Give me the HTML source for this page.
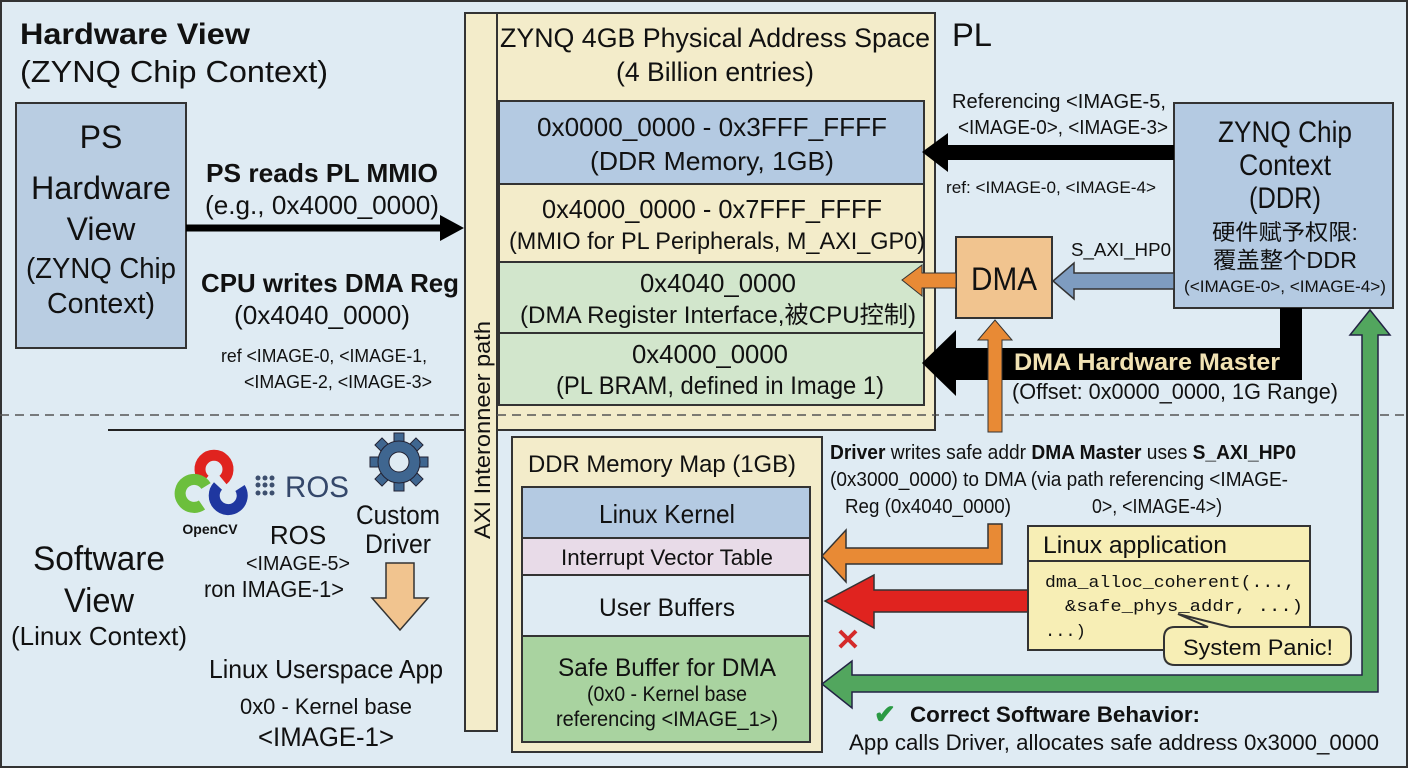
<!DOCTYPE html>
<html><head><meta charset="utf-8"><style>
html,body{margin:0;padding:0;background:#dde9f2}
svg{display:block}
text{font-family:"Liberation Sans","Noto Sans CJK SC",sans-serif;fill:#111}
.m{font-family:"Liberation Mono",monospace}
</style></head><body>
<svg width="1408" height="768" viewBox="0 0 1408 768" xmlns="http://www.w3.org/2000/svg">
<rect x="1" y="1" width="1406" height="766" fill="#dfebf3" stroke="#333" stroke-width="2"/>
<line x1="0" y1="415" x2="1408" y2="415" stroke="#555" stroke-width="1.5" stroke-dasharray="9,6"/>
<line x1="108" y1="430" x2="465" y2="430" stroke="#222" stroke-width="2"/>

<text x="20" y="44" font-size="30" font-weight="bold" textLength="230" lengthAdjust="spacingAndGlyphs">Hardware View</text>
<text x="20" y="82" font-size="31" textLength="308" lengthAdjust="spacingAndGlyphs">(ZYNQ Chip Context)</text>

<rect x="16" y="103" width="170" height="245" fill="#b9cde2" stroke="#333" stroke-width="2"/>
<g font-size="32" text-anchor="middle">
<text x="101" y="148">PS</text>
<text x="101" y="199" textLength="140" lengthAdjust="spacingAndGlyphs">Hardware</text>
<text x="101" y="240">View</text>
<text x="101" y="278" font-size="29" textLength="150" lengthAdjust="spacingAndGlyphs">(ZYNQ Chip</text>
<text x="101" y="313" font-size="29" textLength="108" lengthAdjust="spacingAndGlyphs">Context)</text>
</g>
<line x1="186" y1="228" x2="445" y2="228" stroke="#000" stroke-width="7"/>
<polygon points="440,215 464,228 440,241" fill="#000"/>
<g text-anchor="middle">
<text x="322" y="182" font-size="26" font-weight="bold" textLength="232" lengthAdjust="spacingAndGlyphs">PS reads PL MMIO</text>
<text x="322" y="214" font-size="26" textLength="234" lengthAdjust="spacingAndGlyphs">(e.g., 0x4000_0000)</text>
<text x="330" y="292" font-size="26" font-weight="bold" textLength="258" lengthAdjust="spacingAndGlyphs">CPU writes DMA Reg</text>
<text x="322" y="324" font-size="26" textLength="176" lengthAdjust="spacingAndGlyphs">(0x4040_0000)</text>
</g>
<text x="221" y="362" font-size="18" textLength="206" lengthAdjust="spacingAndGlyphs">ref &lt;IMAGE-0, &lt;IMAGE-1,</text>
<text x="244" y="388" font-size="18" textLength="188" lengthAdjust="spacingAndGlyphs">&lt;IMAGE-2, &lt;IMAGE-3&gt;</text>

<rect x="465" y="13" width="470" height="417" fill="#f3ecca" stroke="#333" stroke-width="2"/>
<rect x="465" y="13" width="32" height="718" fill="#f3ecca" stroke="#333" stroke-width="2"/>
<line x1="497" y1="415" x2="935" y2="415" stroke="#555" stroke-width="1.5" stroke-dasharray="9,6"/>
<text x="715" y="47" font-size="27" text-anchor="middle" textLength="430" lengthAdjust="spacingAndGlyphs">ZYNQ 4GB Physical Address Space</text>
<text x="715" y="81" font-size="27" text-anchor="middle" textLength="198" lengthAdjust="spacingAndGlyphs">(4 Billion entries)</text>
<text x="952" y="46" font-size="32" textLength="40" lengthAdjust="spacingAndGlyphs">PL</text>
<text transform="translate(490,430) rotate(-90)" font-size="22" text-anchor="middle" textLength="218" lengthAdjust="spacingAndGlyphs">AXI Interonneer path</text>

<rect x="499" y="101" width="425" height="83" fill="#b4cae2" stroke="#333" stroke-width="2"/>
<rect x="499" y="184" width="425" height="78" fill="#f3ecca" stroke="#333" stroke-width="2"/>
<rect x="499" y="262" width="425" height="71" fill="#d2e6cc" stroke="#333" stroke-width="2"/>
<rect x="499" y="333" width="425" height="72" fill="#d2e6cc" stroke="#333" stroke-width="2"/>
<g text-anchor="middle" font-size="26">
<text x="712" y="136" textLength="350" lengthAdjust="spacingAndGlyphs">0x0000_0000 - 0x3FFF_FFFF</text>
<text x="712" y="170" textLength="244" lengthAdjust="spacingAndGlyphs">(DDR Memory, 1GB)</text>
<text x="712" y="218" textLength="340" lengthAdjust="spacingAndGlyphs">0x4000_0000 - 0x7FFF_FFFF</text>
<text x="717" y="249" font-size="24" textLength="416" lengthAdjust="spacingAndGlyphs">(MMIO for PL Peripherals, M_AXI_GP0)</text>
<text x="718" y="292" textLength="156" lengthAdjust="spacingAndGlyphs">0x4040_0000</text>
<text x="718" y="323" font-size="24" textLength="396" lengthAdjust="spacingAndGlyphs">(DMA Register Interface,被CPU控制)</text>
<text x="710" y="363" textLength="156" lengthAdjust="spacingAndGlyphs">0x4000_0000</text>
<text x="720" y="394" font-size="25" textLength="328" lengthAdjust="spacingAndGlyphs">(PL BRAM, defined in Image 1)</text>
</g>

<rect x="512" y="437" width="310" height="315" fill="#f3ecca" stroke="#333" stroke-width="2"/>
<text x="528" y="472" font-size="24" textLength="268" lengthAdjust="spacingAndGlyphs">DDR Memory Map (1GB)</text>
<rect x="522" y="487" width="288" height="51" fill="#b4cae2" stroke="#333" stroke-width="2"/>
<rect x="522" y="538" width="288" height="37" fill="#e8dbe8" stroke="#333" stroke-width="2"/>
<rect x="522" y="575" width="288" height="61" fill="#dfebf3" stroke="#333" stroke-width="2"/>
<rect x="522" y="636" width="288" height="106" fill="#a9d3a0" stroke="#333" stroke-width="2"/>
<g text-anchor="middle">
<text x="667" y="523" font-size="26" textLength="136" lengthAdjust="spacingAndGlyphs">Linux Kernel</text>
<text x="667" y="565" font-size="22" textLength="212" lengthAdjust="spacingAndGlyphs">Interrupt Vector Table</text>
<text x="667" y="616" font-size="25" textLength="136" lengthAdjust="spacingAndGlyphs">User Buffers</text>
<text x="667" y="676" font-size="25" textLength="218" lengthAdjust="spacingAndGlyphs">Safe Buffer for DMA</text>
<text x="667" y="701" font-size="21" textLength="160" lengthAdjust="spacingAndGlyphs">(0x0 - Kernel base</text>
<text x="667" y="726" font-size="21" textLength="222" lengthAdjust="spacingAndGlyphs">referencing &lt;IMAGE_1&gt;)</text>
</g>

<rect x="1174" y="103" width="219" height="205" fill="#b4cae2" stroke="#333" stroke-width="2"/>
<g text-anchor="middle">
<text x="1285" y="142" font-size="30" textLength="134" lengthAdjust="spacingAndGlyphs">ZYNQ Chip</text>
<text x="1285" y="175" font-size="30" textLength="92" lengthAdjust="spacingAndGlyphs">Context</text>
<text x="1285" y="208" font-size="30" textLength="72" lengthAdjust="spacingAndGlyphs">(DDR)</text>
<text x="1285" y="240" font-size="22" textLength="146" lengthAdjust="spacingAndGlyphs">硬件赋予权限:</text>
<text x="1285" y="268" font-size="23" textLength="144" lengthAdjust="spacingAndGlyphs">覆盖整个DDR</text>
<text x="1285" y="292" font-size="17" textLength="202" lengthAdjust="spacingAndGlyphs">(&lt;IMAGE-0&gt;, &lt;IMAGE-4&gt;)</text>
</g>
<rect x="945" y="145" width="229" height="15" fill="#000"/>
<polygon points="948,133 922,152 948,172" fill="#000"/>
<text x="952" y="108" font-size="20" textLength="214" lengthAdjust="spacingAndGlyphs">Referencing &lt;IMAGE-5,</text>
<text x="958" y="134" font-size="20" textLength="210" lengthAdjust="spacingAndGlyphs">&lt;IMAGE-0&gt;, &lt;IMAGE-3&gt;</text>
<text x="946" y="193" font-size="17" textLength="210" lengthAdjust="spacingAndGlyphs">ref: &lt;IMAGE-0, &lt;IMAGE-4&gt;</text>

<rect x="956" y="237" width="96" height="81" fill="#f1c48f" stroke="#333" stroke-width="2"/>
<text x="1004" y="290" font-size="32" text-anchor="middle" textLength="66" lengthAdjust="spacingAndGlyphs">DMA</text>
<polygon points="956,273 922,273 922,265 902,280 922,296 922,288 956,288" fill="#e88a35" stroke="#333" stroke-width="1"/>
<polygon points="1174,273 1074,273 1074,263 1053,281 1074,299 1074,289 1174,289" fill="#7e9cc0" stroke="#333" stroke-width="1.5"/>
<text x="1071" y="256" font-size="18" textLength="100" lengthAdjust="spacingAndGlyphs">S_AXI_HP0</text>

<rect x="1280" y="308" width="22" height="72" fill="#000"/>
<rect x="946" y="348" width="356" height="32" fill="#000"/>
<polygon points="956,330 922,363 956,396" fill="#000"/>
<text x="1014" y="370" font-size="24" font-weight="bold" style="fill:#f1e2b3" textLength="266" lengthAdjust="spacingAndGlyphs">DMA Hardware Master</text>
<text x="1012" y="399" font-size="22" textLength="326" lengthAdjust="spacingAndGlyphs">(Offset: 0x0000_0000, 1G Range)</text>

<polygon points="988,432 988,340 978,340 995,320 1012,340 1002,340 1002,432" fill="#e88a35" stroke="#333" stroke-width="1"/>
<polygon points="988,524 1002,524 1002,564 846,564 846,582 822,556 846,530 846,548 988,548" fill="#e88a35" stroke="#333" stroke-width="1.5"/>
<polygon points="1038,590 1038,612 874,612 874,628 825,601 874,575 874,590" fill="#e0231f" stroke="#333" stroke-width="1.5"/>
<text x="848" y="650" font-size="30" font-weight="bold" style="fill:#d42a2a" text-anchor="middle">✕</text>
<polygon points="1362,335 1362,675 852,675 852,661 822,684 852,708 852,692 1378,692 1378,335 1390,335 1370,310 1350,335" fill="#52a65e" stroke="#224" stroke-width="1.5"/>

<text x="830" y="459" font-size="20" textLength="466" lengthAdjust="spacingAndGlyphs"><tspan font-weight="bold">Driver</tspan> writes safe addr <tspan font-weight="bold">DMA Master</tspan> uses <tspan font-weight="bold">S_AXI_HP0</tspan></text>
<text x="830" y="486" font-size="20" textLength="458" lengthAdjust="spacingAndGlyphs">(0x3000_0000) to DMA (via path referencing &lt;IMAGE-</text>
<text x="845" y="513" font-size="20" textLength="166" lengthAdjust="spacingAndGlyphs">Reg (0x4040_0000)</text>
<text x="1092" y="513" font-size="20" textLength="130" lengthAdjust="spacingAndGlyphs">0&gt;, &lt;IMAGE-4&gt;)</text>

<rect x="1028" y="526" width="282" height="124" fill="#f7eeb5" stroke="#333" stroke-width="2"/>
<line x1="1028" y1="561" x2="1310" y2="561" stroke="#333" stroke-width="2"/>
<text x="1043" y="553" font-size="24" textLength="184" lengthAdjust="spacingAndGlyphs">Linux application</text>
<text class="m" x="1045" y="587" font-size="17" textLength="250" lengthAdjust="spacingAndGlyphs">dma_alloc_coherent(...,</text>
<text class="m" x="1065" y="611" font-size="17" textLength="238" lengthAdjust="spacingAndGlyphs">&amp;safe_phys_addr, ...)</text>
<text class="m" x="1045" y="636" font-size="17">...)</text>
<path d="M1208,627 L1175,627 Q1164,627 1164,638 L1164,654 Q1164,665 1175,665 L1340,665 Q1351,665 1351,654 L1351,638 Q1351,627 1340,627 L1230,627 L1178,614 Z" fill="#f7eeb5" stroke="#333" stroke-width="2"/>
<rect x="1198" y="629" width="60" height="10" fill="#f7eeb5"/>
<text x="1258" y="655" font-size="22" text-anchor="middle" textLength="150" lengthAdjust="spacingAndGlyphs">System Panic!</text>

<text x="874" y="723" font-size="26" font-weight="bold" style="fill:#2a9a44">✔</text>
<text x="910" y="722" font-size="22" font-weight="bold" textLength="290" lengthAdjust="spacingAndGlyphs">Correct Software Behavior:</text>
<text x="849" y="750" font-size="22" textLength="530" lengthAdjust="spacingAndGlyphs">App calls Driver, allocates safe address 0x3000_0000</text>

<g text-anchor="middle">
<text x="99" y="570" font-size="34" textLength="132" lengthAdjust="spacingAndGlyphs">Software</text>
<text x="99" y="612" font-size="34" textLength="70" lengthAdjust="spacingAndGlyphs">View</text>
<text x="99" y="645" font-size="26" textLength="176" lengthAdjust="spacingAndGlyphs">(Linux Context)</text>
</g>
<g fill="none" stroke-width="11">
<path d="M205,480 A14,14 0 1,1 223,480" stroke="#e0231f"/>
<path d="M206,486 A14,14 0 1,0 202,505" stroke="#6cbf3c"/>
<path d="M218,486 A14,14 0 1,0 240,488" stroke="#1f37a0"/>
</g>
<text x="210" y="534" font-size="14" font-weight="bold" text-anchor="middle">OpenCV</text>
<g fill="#3d4f6e">
<circle cx="258" cy="478" r="2.5"/><circle cx="265" cy="478" r="2.5"/><circle cx="272" cy="478" r="2.5"/>
<circle cx="258" cy="485" r="2.5"/><circle cx="265" cy="485" r="2.5"/><circle cx="272" cy="485" r="2.5"/>
<circle cx="258" cy="493" r="2.5"/><circle cx="265" cy="493" r="2.5"/><circle cx="272" cy="493" r="2.5"/>
</g>
<text x="285" y="497" font-size="30" style="fill:#34476a" textLength="64" lengthAdjust="spacingAndGlyphs">ROS</text>
<g text-anchor="middle">
<text x="298" y="544" font-size="26">ROS</text>
<text x="298" y="570" font-size="20" textLength="104" lengthAdjust="spacingAndGlyphs">&lt;IMAGE-5&gt;</text>
<text x="274" y="597" font-size="23" textLength="140" lengthAdjust="spacingAndGlyphs">ron IMAGE-1&gt;</text>
</g>
<g transform="translate(399,462)" fill="#3f6690" stroke="#223" stroke-width="1">
<g>
<rect x="-5" y="-29" width="10" height="12"/><rect x="-5" y="17" width="10" height="12"/>
<rect x="-29" y="-5" width="12" height="10"/><rect x="17" y="-5" width="12" height="10"/>
<rect x="-5" y="-29" width="10" height="12" transform="rotate(45)"/><rect x="-5" y="-29" width="10" height="12" transform="rotate(135)"/>
<rect x="-5" y="-29" width="10" height="12" transform="rotate(225)"/><rect x="-5" y="-29" width="10" height="12" transform="rotate(315)"/>
</g>
<circle r="21"/>
<circle r="10" fill="#dfebf3"/>
</g>
<g text-anchor="middle">
<text x="398" y="524" font-size="27" textLength="84" lengthAdjust="spacingAndGlyphs">Custom</text>
<text x="398" y="553" font-size="27" textLength="66" lengthAdjust="spacingAndGlyphs">Driver</text>
</g>
<polygon points="386,563 414,563 414,598 428,598 400,630 372,598 386,598" fill="#f1c48f" stroke="#333" stroke-width="1.5"/>
<g text-anchor="middle">
<text x="326" y="678" font-size="26" textLength="234" lengthAdjust="spacingAndGlyphs">Linux Userspace App</text>
<text x="326" y="714" font-size="22" textLength="172" lengthAdjust="spacingAndGlyphs">0x0 - Kernel base</text>
<text x="326" y="746" font-size="27" textLength="136" lengthAdjust="spacingAndGlyphs">&lt;IMAGE-1&gt;</text>
</g>
</svg>
</body></html>
